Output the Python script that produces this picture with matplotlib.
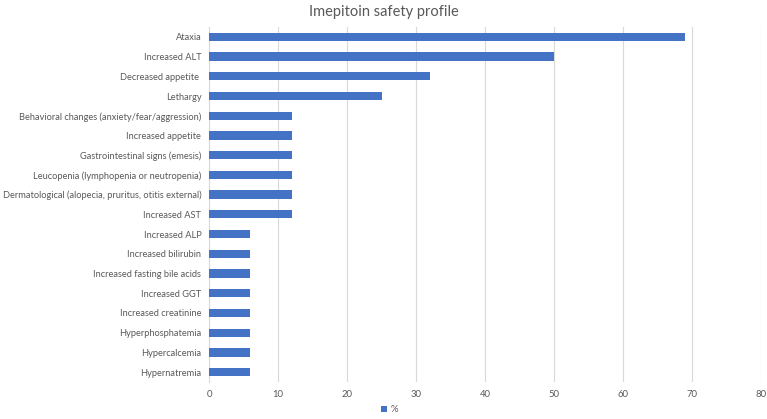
import matplotlib
matplotlib.use("Agg")
import matplotlib.pyplot as plt

plt.rcParams['font.family'] = ['Lato', 'DejaVu Sans']

# categories listed top to bottom
efeitos = [
    "Ataxia",
    "Increased ALT",
    "Decreased appetite ",
    "Lethargy",
    "Behavioral changes (anxiety/fear/aggression)",
    "Increased appetite",
    "Gastrointestinal signs (emesis)",
    "Leucopenia (lymphopenia or neutropenia)",
    "Dermatological (alopecia, pruritus, otitis external)",
    "Increased AST",
    "Increased ALP",
    "Increased bilirubin",
    "Increased fasting bile acids",
    "Increased GGT",
    "Increased creatinine",
    "Hyperphosphatemia",
    "Hypercalcemia",
    "Hypernatremia",
]
percentuais = [69, 50, 32, 25, 12, 12, 12, 12, 12, 12, 6, 6, 6, 6, 6, 6, 6, 6]
ticks_x = [0, 10, 20, 30, 40, 50, 60, 70, 80]

cinza = "#595959"

fig = plt.figure(figsize=(7.67, 4.19), dpi=100)
ax = fig.add_axes([0.2725, 0.0883, 0.7197, 0.8473])

pos = list(range(len(efeitos)))
ax.barh(pos, percentuais, height=0.42, color="#4472C4", label="%", zorder=3)

ax.set_ylim(len(efeitos) - 0.5, -0.5)
ax.set_xlim(0, 80)
ax.set_yticks(pos)
ax.set_yticklabels(efeitos, fontsize=6.65, color=cinza)
ax.set_xticks(ticks_x)
ax.set_xticklabels([str(t) for t in ticks_x], fontsize=6.8, color=cinza)
ax.tick_params(axis="y", length=0, pad=5.5)
ax.tick_params(axis="x", length=0, pad=6)

ax.grid(axis="x", color="#d9d9d9", linewidth=0.8, zorder=0)
for lado in ["top", "right", "bottom"]:
    ax.spines[lado].set_visible(False)
ax.spines["left"].set_color("#d9d9d9")
ax.spines["left"].set_linewidth(0.8)

fig.text(0.5, 0.972, "Imepitoin safety profile", ha="center", va="center",
         fontsize=10.5, color=cinza)

fig.legend(loc="center", bbox_to_anchor=(0.508, 0.022), frameon=False,
           fontsize=6.8, labelcolor=cinza, handlelength=0.6, handleheight=0.6,
           handletextpad=0.4)

fig.savefig("out.png", dpi=100)
